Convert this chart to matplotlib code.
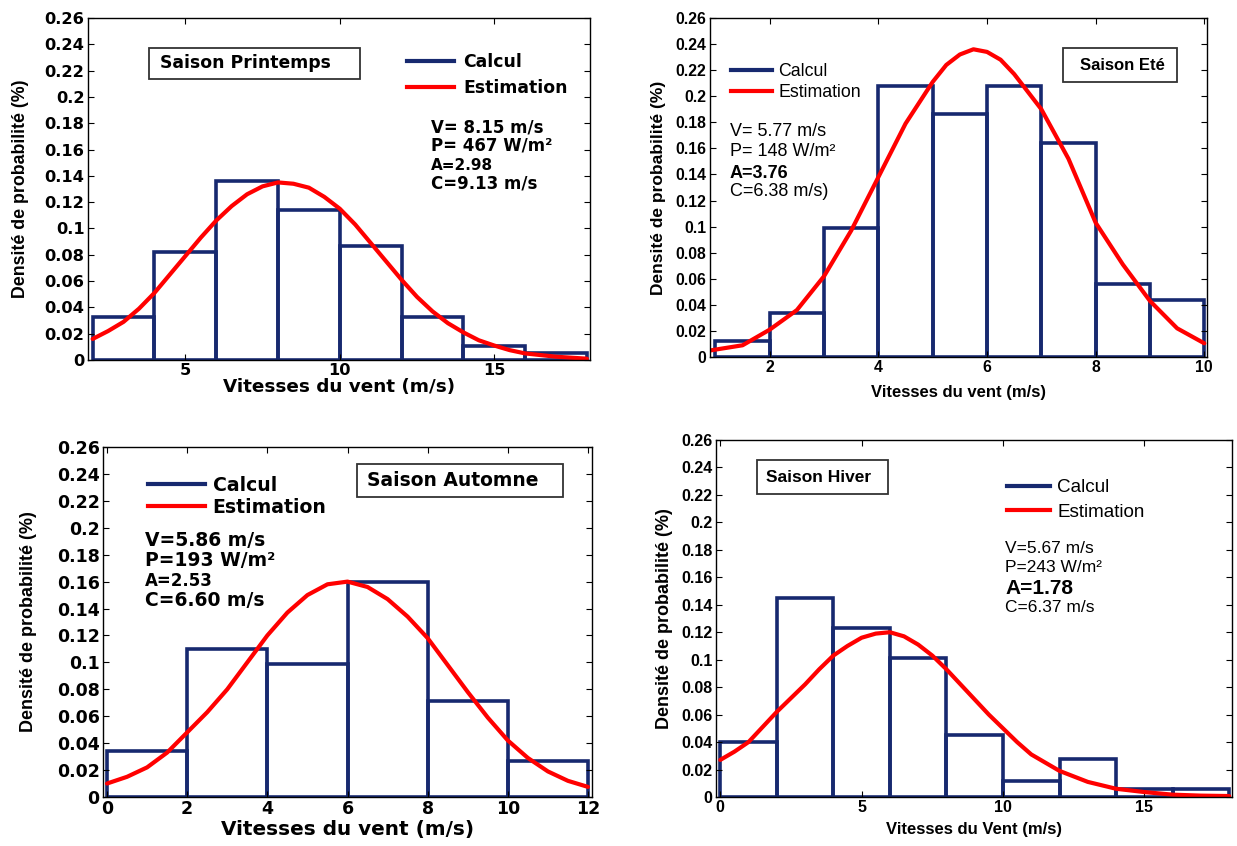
import numpy as np
from matplotlib import pyplot as plt
from matplotlib.patches import Rectangle
from matplotlib.ticker import FuncFormatter

plt.rcParams['font.family'] = ['Liberation Sans', 'DejaVu Sans']

#%% Data
# Printemps
edges_pr = [2, 4, 6, 8, 10, 12, 14, 16]
freq_pr = [0.033, 0.082, 0.136, 0.114, 0.087, 0.033, 0.011, 0.005]
v_pr = [2, 2.5, 3, 3.5, 4, 4.5, 5, 5.5, 6, 6.5, 7, 7.5, 8, 8.5, 9, 9.5, 10,
        10.5, 11, 11.5, 12, 12.5, 13, 13.5, 14, 14.5, 15, 15.5, 16, 17, 18]
est_pr = [0.016, 0.022, 0.029, 0.039, 0.051, 0.065, 0.079, 0.093, 0.106,
          0.117, 0.126, 0.132, 0.135, 0.134, 0.131, 0.124, 0.115, 0.103,
          0.089, 0.075, 0.061, 0.048, 0.037, 0.028, 0.021, 0.015, 0.011,
          0.0075, 0.005, 0.0025, 0.001]

# Ete
edges_et = [1, 2, 3, 4, 5, 6, 7, 8, 9]
freq_et = [0.012, 0.034, 0.099, 0.208, 0.186, 0.208, 0.164, 0.056, 0.044]
v_et = [0.9, 1.5, 2, 2.5, 3, 3.5, 4, 4.5, 5, 5.25, 5.5, 5.75, 6, 6.25, 6.5,
        7, 7.5, 8, 8.5, 9, 9.5, 10]
est_et = [0.005, 0.009, 0.021, 0.036, 0.062, 0.097, 0.138, 0.179, 0.211,
          0.224, 0.232, 0.236, 0.234, 0.228, 0.217, 0.190, 0.152, 0.103,
          0.071, 0.043, 0.022, 0.0105]

# Automne
edges_au = [0, 2, 4, 6, 8, 10]
freq_au = [0.034, 0.110, 0.099, 0.160, 0.071, 0.027]
v_au = [0, 0.5, 1, 1.5, 2, 2.5, 3, 3.5, 4, 4.5, 5, 5.5, 6, 6.5, 7, 7.5, 8,
        8.5, 9, 9.5, 10, 10.5, 11, 11.5, 12]
est_au = [0.010, 0.015, 0.022, 0.033, 0.048, 0.063, 0.080, 0.100, 0.120,
          0.137, 0.150, 0.158, 0.160, 0.156, 0.147, 0.134, 0.118, 0.098,
          0.078, 0.059, 0.042, 0.029, 0.019, 0.012, 0.0075]

# Hiver
edges_hi = [0, 2, 4, 6, 8, 10, 12, 14, 16]
freq_hi = [0.040, 0.145, 0.123, 0.101, 0.045, 0.0114, 0.028, 0.006, 0.006]
v_hi = [0, 0.5, 1, 1.5, 2, 2.5, 3, 3.5, 4, 4.5, 5, 5.5, 6, 6.5, 7, 7.5, 8,
        8.5, 9, 9.5, 10, 10.5, 11, 11.5, 12, 13, 14, 15, 16, 17, 18]
est_hi = [0.027, 0.033, 0.040, 0.051, 0.062, 0.072, 0.082, 0.093, 0.103,
          0.110, 0.116, 0.119, 0.120, 0.117, 0.111, 0.103, 0.093, 0.082,
          0.071, 0.060, 0.050, 0.040, 0.031, 0.025, 0.019, 0.011, 0.006,
          0.0036, 0.0017, 0.001, 0.0007]

#%% Config Plot
W, H = 1237, 846
NAVY = '#17296f'
RED = '#ff0000'
WIDE = ['DejaVu Sans']          # panels 1 and 3 look stretched
NARROW = ['Liberation Sans', 'DejaVu Sans']

fig = plt.figure(figsize=(W / 100, H / 100), dpi=100)


def px(x, y):
    return x / W, 1 - y / H


def make_axes(l, t, r, b):
    return fig.add_axes([l / W, 1 - b / H, (r - l) / W, (b - t) / H])


def style(ax, xlim, xticks, xlabel, fam, tsize, xlsize, ylsize, ylx, xly):
    ax.set_xlim(*xlim)
    ax.set_ylim(0, 0.26)
    ax.set_xticks(xticks)
    ax.set_yticks(np.arange(0, 0.261, 0.02))
    ax.yaxis.set_major_formatter(FuncFormatter(lambda v, p: '%g' % round(v, 2)))
    ax.tick_params(direction='in', top=True, right=True, length=4, pad=2.5)
    for lab in ax.get_xticklabels() + ax.get_yticklabels():
        lab.set_fontweight('bold')
        lab.set_family(fam)
        lab.set_fontsize(tsize)
    ax.set_xlabel(xlabel, fontsize=xlsize, fontweight='bold', family=fam)
    ax.set_ylabel('Densité de probabilité (%)', fontsize=ylsize,
                  fontweight='bold', family=NARROW)
    ax.yaxis.label.set_va('center')
    ax.xaxis.label.set_va('center')
    ax.yaxis.set_label_coords(ylx, 0.5)
    ax.xaxis.set_label_coords(0.5, xly)
    for s in ax.spines.values():
        s.set_linewidth(1.0)


def draw(ax, edges, freq, v, est):
    w = np.diff(list(edges) + [edges[-1] + (edges[1] - edges[0])])
    ax.bar(edges, freq, width=w, align='edge', fill=False,
           edgecolor=NAVY, linewidth=2.6, label='Calcul')
    ax.plot(v, est, color=RED, linewidth=3, label='Estimation',
            solid_capstyle='round', solid_joinstyle='round')


def legend(ax, x, y, fam, size, weight, hl, tp, ls):
    h = [plt.Line2D([], [], color=NAVY, lw=3),
         plt.Line2D([], [], color=RED, lw=3)]
    ax.legend(h, ['Calcul', 'Estimation'], loc='upper left',
              bbox_to_anchor=px(x, y), bbox_transform=fig.transFigure,
              frameon=False, handlelength=hl, handletextpad=tp,
              labelspacing=ls, borderpad=0, borderaxespad=0,
              prop={'size': size, 'weight': weight, 'family': fam})


def season_box(l, t, r, b, tx, txt, fam, size):
    fig.patches.append(Rectangle(px(l, b), (r - l) / W, (b - t) / H,
                                 transform=fig.transFigure, fill=False,
                                 edgecolor='#333333', linewidth=1.3))
    fig.text(*px(tx, (t + b) / 2), txt, fontsize=size, fontweight='bold',
             va='center', ha='left', family=fam)


def params(x, ys, lines, fams, sizes, weights):
    for y, s, f, sz, w in zip(ys, lines, fams, sizes, weights):
        fig.text(*px(x, y), s, fontsize=sz, fontweight=w, family=f,
                 va='center', ha='left')


#%% Printemps
ax1 = make_axes(88, 18, 590, 360)
draw(ax1, edges_pr, freq_pr, v_pr, est_pr)
style(ax1, (1.85, 18.1), [5, 10, 15], 'Vitesses du vent (m/s)',
      WIDE, 11.7, 13.2, 12.8, -0.135, -0.08)
legend(ax1, 407, 53, WIDE, 12.4, 'bold', 2.7, 0.55, 0.45)
season_box(149, 48, 360, 79, 160, 'Saison Printemps', WIDE, 12.4)
params(431, [127, 145, 165, 184],
       ['V= 8.15 m/s', 'P= 467 W/m²', 'A=2.98', 'C=9.13 m/s'],
       [WIDE] * 4, [12, 12, 11, 12], ['bold', 'bold', 'bold', 'bold'])

#%% Ete
ax2 = make_axes(710, 18, 1207, 357)
draw(ax2, edges_et, freq_et, v_et, est_et)
style(ax2, (0.9, 10.05), [2, 4, 6, 8, 10], 'Vitesses du vent (m/s)',
      NARROW, 11.3, 12, 12.5, -0.103, -0.106)
legend(ax2, 731, 63, NARROW, 12.8, 'normal', 2.3, 0.35, 0.22)
season_box(1063, 48, 1177, 82, 1080, 'Saison Eté', NARROW, 12)
params(730, [132, 152, 173, 192],
       ['V= 5.77 m/s', 'P= 148 W/m²', 'A=3.76', 'C=6.38 m/s)'],
       [NARROW] * 4, [13, 13, 13, 13], ['normal', 'normal', 'bold', 'normal'])

#%% Automne
ax3 = make_axes(103, 447, 592, 797)
draw(ax3, edges_au, freq_au, v_au, est_au)
style(ax3, (-0.1, 12.1), [0, 2, 4, 6, 8, 10, 12], 'Vitesses du vent (m/s)',
      WIDE, 12.5, 14.4, 13, -0.153, -0.094)
legend(ax3, 148, 476, WIDE, 13.6, 'bold', 3.0, 0.42, 0.16)
season_box(357, 464, 563, 497, 367, 'Saison Automne', WIDE, 13.5)
params(145, [540, 560, 581, 600],
       ['V=5.86 m/s', 'P=193 W/m²', 'A=2.53', 'C=6.60 m/s'],
       [WIDE] * 4, [13.5, 13.5, 12, 13.5], ['bold', 'bold', 'bold', 'bold'])

#%% Hiver
ax4 = make_axes(716, 440, 1232, 797)
draw(ax4, edges_hi, freq_hi, v_hi, est_hi)
style(ax4, (-0.15, 18.1), [0, 5, 10, 15], 'Vitesses du Vent (m/s)',
      NARROW, 11.5, 12, 13, -0.099, -0.092)
legend(ax4, 1007, 479, NARROW, 13.6, 'normal', 2.3, 0.37, 0.4)
season_box(757, 460, 888, 494, 766, 'Saison Hiver', NARROW, 12.5)
params(1005, [548, 567, 588, 607],
       ['V=5.67 m/s', 'P=243 W/m²', 'A=1.78', 'C=6.37 m/s'],
       [NARROW] * 4, [12.5, 12.5, 15, 12.5],
       ['normal', 'normal', 'bold', 'normal'])

fig.savefig('out.png', dpi=100)
